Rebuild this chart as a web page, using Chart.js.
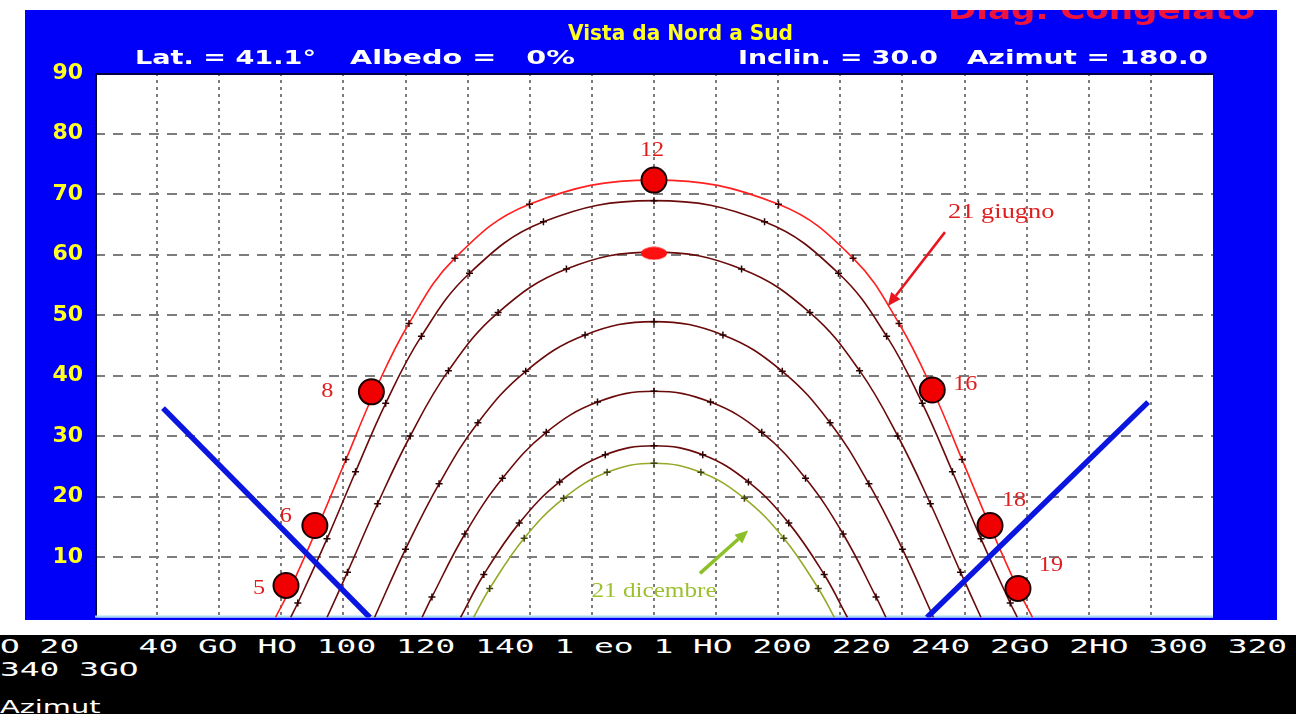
<!DOCTYPE html>
<html><head><meta charset="utf-8">
<script src="https://cdn.jsdelivr.net/npm/chart.js@4.4.1/dist/chart.umd.min.js"></script>
<style>
html,body{margin:0;padding:0;background:#fff;width:1296px;height:714px;overflow:hidden;position:relative;}
#wrap{position:absolute;left:25px;top:10px;width:1252px;height:610px;overflow:hidden;}
#c{display:block;}
#band{position:absolute;left:0;top:635px;width:1296px;height:79px;background:#000;overflow:hidden;}
#ticks{position:absolute;left:0;top:0;width:760px;font-family:"DejaVu Sans Mono";font-size:19px;line-height:23px;color:#fff;white-space:pre-wrap;transform:scaleX(1.731);transform-origin:0 0;}
#xtitle{position:absolute;left:0;top:63px;font-family:"DejaVu Sans";font-size:18px;line-height:18px;color:#fff;white-space:nowrap;transform:scaleX(1.6);transform-origin:0 0;}
</style></head>
<body>
<div id="wrap"><canvas id="c" width="1252" height="622"></canvas></div>
<div id="band"><div id="ticks"></div><div id="xtitle"></div></div>
<script>
// ---------- DATA ----------
const xTickLabels = ['O','20','','','40','GO','HO','100','120','140','1','eo','1','HO','200','220','240','2GO','2HO','300','320','340','3GO'];
const xAxisTitle = 'Azimut';
const yTickLabels = ['','10','20','30','40','50','60','70','80','90'];

const chartTitle = 'Vista da Nord a Sud';
const infoLeft1 = 'Lat. = 41.1°';
const infoLeft2 = 'Albedo =   0%';
const infoRight1 = 'Inclin. = 30.0';
const infoRight2 = 'Azimut = 180.0';
const stateText = 'Diag. Congelato';

// sun paths [azimuth, altitude] for the 21st of each month
const jun21 = [[58.1,0],[62.8,4.7],[71.9,15.2],[80.8,26.1],[90.1,37.4],[101.1,48.6],[115.9,59.4],[139.9,68.3],[180,72.3],[220.1,68.3],[244.1,59.4],[258.9,48.6],[269.9,37.4],[279.2,26.1],[288.1,15.2],[297.2,4.7],[301.9,0]];
const may21 = [[63.0,0],[65.3,2.4],[74.7,13.0],[83.9,24.1],[93.6,35.4],[105.1,46.5],[120.6,56.9],[144.4,65.4],[180,68.9],[215.6,65.4],[239.4,56.9],[254.9,46.5],[266.4,35.4],[276.1,24.1],[285.3,13.0],[294.7,2.4],[297.0,0]];
const apr21 = [[74.7,0],[81.3,7.5],[91.0,18.8],[101.5,30.0],[113.8,40.8],[129.8,50.4],[151.8,57.6],[180,60.4],[208.2,57.6],[230.2,50.4],[246.2,40.8],[258.5,30.0],[269.0,18.8],[278.7,7.5],[285.3,0]];
const mar21 = [[90,0],[100.0,11.3],[110.8,22.1],[123.3,32.2],[138.7,40.7],[157.8,46.7],[180,48.9],[202.2,46.7],[221.3,40.7],[236.7,32.2],[249.2,22.1],[260.0,11.3],[270,0]];
const feb21 = [[105.3,0],[108.5,3.4],[119.1,13.8],[131.2,23.0],[145.3,30.6],[161.8,35.6],[180,37.4],[198.2,35.6],[214.7,30.6],[228.8,23.0],[240.9,13.8],[251.5,3.4],[254.7,0]];
const jan21 = [[117.7,0],[125.2,7.1],[136.6,15.6],[149.6,22.4],[164.3,26.9],[180,28.4],[195.7,26.9],[210.4,22.4],[223.4,15.6],[234.8,7.1],[242.3,0]];
const dec21 = [[121.9,0],[127.1,4.8],[138.2,13.1],[150.9,19.7],[164.9,24.0],[180,25.5],[195.1,24.0],[209.1,19.7],[221.8,13.1],[232.9,4.8],[238.1,0]];

// highlighted hours on 21 June
const junHourPoints = [[61.5,5.3],[70.8,15.2],[89.0,37.3],[180,72.3],[269.6,37.6],[288.2,15.2],[297.2,4.8]];
const junHourLabels = ['5','6','8','12','16','18','19'];
const noonMark = [[180,60.2]];

// horizon of the tilted plane
const planeLeft = [[21.9,34.6],[88.5,0]];
const planeRight = [[267.9,0],[339.1,35.6]];

const juneNote = {text:'21 giugno', at:[274.7,66.0], from:[273.7,63.7], to:[255.3,51.5]};
const decNote = {text:'21 dicembre', at:[180,3.4], from:[194.8,7.3], to:[210.3,14.4]};

// ---------- HTML texts ----------
document.getElementById('ticks').textContent = xTickLabels.join(' ');
document.getElementById('xtitle').textContent = xAxisTitle;

// ---------- helpers ----------
const toXY = arr => arr.map(p => ({x:p[0], y:p[1]}));
const ell = document.createElement('canvas');
ell.width = 28; ell.height = 14;
{ const ec = ell.getContext('2d'); ec.fillStyle = '#ff1010'; ec.beginPath(); ec.ellipse(14,7,13,6.5,0,0,Math.PI*2); ec.fill(); }

function fitText(ctx, t, x1, x2, y, font, color){
  ctx.save(); ctx.font = font; ctx.fillStyle = color; ctx.textBaseline = 'alphabetic'; ctx.textAlign = 'left';
  const w = ctx.measureText(t).width; const s = (x2 - x1) / w;
  ctx.translate(x1, y); ctx.scale(s, 1); ctx.fillText(t, 0, 0); ctx.restore();
}
function stretchText(ctx, t, x, y, font, color, s, align){
  ctx.save(); ctx.font = font; ctx.fillStyle = color; ctx.textBaseline = 'alphabetic'; ctx.textAlign = 'left';
  const w = ctx.measureText(t).width * s;
  const x0 = align === 'center' ? x - w/2 : x;
  ctx.translate(x0, y); ctx.scale(s, 1); ctx.fillText(t, 0, 0); ctx.restore();
}
function arrow(ctx, x1, y1, x2, y2, color, lw, head){
  ctx.save(); ctx.strokeStyle = color; ctx.fillStyle = color; ctx.lineWidth = lw;
  const ang = Math.atan2(y2 - y1, x2 - x1);
  const bx = x2 - head * Math.cos(ang), by = y2 - head * Math.sin(ang);
  ctx.beginPath(); ctx.moveTo(x1, y1); ctx.lineTo(bx, by); ctx.stroke();
  ctx.beginPath(); ctx.moveTo(x2, y2);
  ctx.lineTo(bx + head*0.45*Math.sin(ang), by - head*0.45*Math.cos(ang));
  ctx.lineTo(bx - head*0.45*Math.sin(ang), by + head*0.45*Math.cos(ang));
  ctx.closePath(); ctx.fill(); ctx.restore();
}

const deco = {
  id: 'deco',
  beforeDraw(chart){
    const {ctx, chartArea:a, width, height} = chart;
    ctx.save();
    ctx.fillStyle = '#0000f8'; ctx.fillRect(0, 0, width, height);
    ctx.fillStyle = '#ffffff'; ctx.fillRect(a.left, a.top, a.right - a.left, a.bottom - a.top);
    ctx.restore();
  },
  beforeDatasetsDraw(chart){
    const {ctx, chartArea:a} = chart;
    ctx.save();
    ctx.lineWidth = 2; ctx.strokeStyle = '#000040';
    ctx.beginPath(); ctx.moveTo(a.left + 1, a.bottom); ctx.lineTo(a.left + 1, a.top + 1); ctx.lineTo(a.right, a.top + 1); ctx.stroke();
    ctx.strokeStyle = '#a8dcf4';
    ctx.beginPath(); ctx.moveTo(a.left, a.bottom - 1); ctx.lineTo(a.right, a.bottom - 1); ctx.stroke();
    ctx.restore();
  },
  afterDatasetsDraw(chart){
    const {ctx} = chart; const xs = chart.scales.x, ys = chart.scales.y;
    const px = p => [xs.getPixelForValue(p[0]), ys.getPixelForValue(p[1])];
    const offs = [[-27,9],[-29,-4],[-44,5],[-2,-24],[33,0],[24,-20],[33,-17]];
    const serif = '22px "Liberation Serif"';
    junHourPoints.forEach((p, i) => {
      const [x, y] = px(p);
      stretchText(ctx, junHourLabels[i], x + offs[i][0], y + offs[i][1], serif, '#e01e1e', 1.1, 'center');
    });
    let [tx, ty] = px(juneNote.at);
    stretchText(ctx, juneNote.text, tx, ty, serif, '#e01e1e', 1.2, 'left');
    let [ax1, ay1] = px(juneNote.from), [ax2, ay2] = px(juneNote.to);
    arrow(ctx, ax1, ay1, ax2, ay2, '#e8141e', 2.5, 13);
    [tx, ty] = px(decNote.at);
    stretchText(ctx, decNote.text, tx, ty, '21px "Liberation Serif"', '#9cc030', 1.2, 'center');
    [ax1, ay1] = px(decNote.from); [ax2, ay2] = px(decNote.to);
    arrow(ctx, ax1, ay1, ax2, ay2, '#8cc028', 3.5, 13);
  },
  afterDraw(chart){
    const {ctx} = chart;
    fitText(ctx, stateText, 923, 1230, 9, 'bold 26px "DejaVu Sans"', '#f0143c');
    fitText(ctx, chartTitle, 543, 768, 30, 'bold 22px "DejaVu Sans"', '#ffff22');
    fitText(ctx, infoLeft1, 110, 291, 54, 'bold 19px "DejaVu Sans"', '#ffffff');
    fitText(ctx, infoLeft2, 325, 550, 54, 'bold 19px "DejaVu Sans"', '#ffffff');
    fitText(ctx, infoRight1, 713, 913, 54, 'bold 19px "DejaVu Sans"', '#ffffff');
    fitText(ctx, infoRight2, 942, 1183, 54, 'bold 19px "DejaVu Sans"', '#ffffff');
  }
};

const crossR = c => (c.raw && c.raw.y === 0) ? 0 : 3.5;
function curve(data, color, crossColor){
  return {type:'line', data: toXY(data), borderColor: color, borderWidth: 1.6, tension: 0.4,
    pointStyle: 'cross', pointRadius: crossR, pointBorderColor: crossColor, pointBorderWidth: 1.5,
    pointBackgroundColor: crossColor, fill: false};
}

const gridColor = c => (c.tick && (c.tick.value === c.scale.min || c.tick.value === c.scale.max)) ? 'rgba(0,0,0,0)' : '#7c7c7c';

// first dataset in the list is drawn on top
new Chart(document.getElementById('c'), {
  type: 'line',
  data: {
    datasets: [
      {type:'line', data: toXY(junHourPoints), showLine:false, pointStyle:'circle', pointRadius:12.5,
        pointBackgroundColor:'#f00000', pointBorderColor:'#1a0000', pointBorderWidth:2},
      {type:'line', data: toXY(noonMark), showLine:false, pointStyle: ell, pointRadius: 7},
      {type:'line', data: toXY(planeLeft), borderColor:'#0a16e0', borderWidth:5.5, pointRadius:0, tension:0},
      {type:'line', data: toXY(planeRight), borderColor:'#0a16e0', borderWidth:5.5, pointRadius:0, tension:0},
      curve(jun21, '#ff2020', '#3a0000'),
      curve(may21, '#6a0a0a', '#2a0000'),
      curve(apr21, '#6a0a0a', '#2a0000'),
      curve(mar21, '#6a0a0a', '#2a0000'),
      curve(feb21, '#6a0a0a', '#2a0000'),
      curve(jan21, '#6a0a0a', '#2a0000'),
      curve(dec21, '#98a828', '#404010')
    ]
  },
  options: {
    responsive: false, maintainAspectRatio: false, animation: false, devicePixelRatio: 1,
    layout: {padding: {left: 0, right: 64, top: 63, bottom: 0}},
    plugins: {legend: {display: false}, tooltip: {enabled: false}, title: {display: false}},
    scales: {
      x: {type: 'linear', min: 0, max: 360, position: 'bottom',
        ticks: {display: false, stepSize: 20},
        grid: {color: gridColor, lineWidth: 2, drawTicks: false},
        border: {display: false, dash: [3, 4]},
        afterFit(s){ s.height = 3; s.paddingLeft = 0; s.paddingRight = 0; }
      },
      y: {type: 'linear', min: 0, max: 90,
        ticks: {stepSize: 10, padding: 12, color: '#ffff22',
          font: {family: 'DejaVu Sans', weight: 'bold', size: 22},
          callback: (v, i) => yTickLabels[i]},
        grid: {color: gridColor, lineWidth: 2, drawTicks: false},
        border: {display: false, dash: [10, 8]},
        afterFit(s){ s.width = 70; s.paddingTop = 0; s.paddingBottom = 0; }
      }
    }
  },
  plugins: [deco]
});
</script>
</body></html>
